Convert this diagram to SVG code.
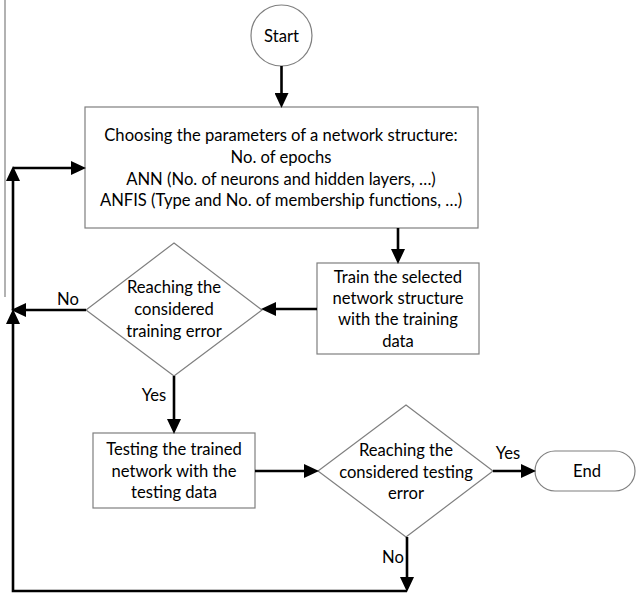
<svg xmlns="http://www.w3.org/2000/svg" width="636" height="596" viewBox="0 0 636 596">
<style>
.shape{fill:#fff;stroke:#7f7f7f;stroke-width:1.2}
.t{font-family:Lato,"Open Sans","Liberation Sans",sans-serif;font-size:16.6px;fill:#000;text-anchor:middle;dominant-baseline:central}
.c{fill:none;stroke:#000;stroke-width:2.6}
</style>
<defs>
<marker id="ah" viewBox="0 0 15 14" refX="7" refY="7" markerWidth="15" markerHeight="14" markerUnits="userSpaceOnUse" orient="auto">
<path d="M0,0 L15,7 L0,14 z" fill="#000"/>
</marker>
</defs>
<rect width="636" height="596" fill="#fff"/>
<line x1="5" y1="0" x2="5" y2="297" stroke="#7f7f7f" stroke-width="1.2"/>
<g id="start">
<circle class="shape" cx="281.5" cy="35.5" r="30.5"/>
<text class="t" x="281.5" y="35.5">Start</text>
</g>
<g id="choose">
<rect class="shape" x="85" y="107" width="393" height="121"/>
<text class="t" x="281" y="135">Choosing the parameters of a network structure:</text>
<text class="t" x="281" y="157">No. of epochs</text>
<text class="t" x="281" y="179">ANN (No. of neurons and hidden layers, …)</text>
<text class="t" x="281" y="200">ANFIS (Type and No. of membership functions, …)</text>
</g>
<g id="train">
<rect class="shape" x="317" y="263" width="162" height="91"/>
<text class="t" x="398" y="277">Train the selected</text>
<text class="t" x="398" y="298">network structure</text>
<text class="t" x="398" y="319">with the training</text>
<text class="t" x="398" y="341">data</text>
</g>
<g id="decision1">
<polygon class="shape" points="174,243 262,310 174,376 86,310"/>
<text class="t" x="174" y="287">Reaching the</text>
<text class="t" x="174" y="309">considered</text>
<text class="t" x="174" y="331">training error</text>
</g>
<g id="test">
<rect class="shape" x="93" y="433" width="162" height="75"/>
<text class="t" x="174" y="449">Testing the trained</text>
<text class="t" x="174" y="471">network with the</text>
<text class="t" x="174" y="492">testing data</text>
</g>
<g id="decision2">
<polygon class="shape" points="406,405 493,471 406,537 318,471"/>
<text class="t" x="406" y="450">Reaching the</text>
<text class="t" x="406" y="472">considered testing</text>
<text class="t" x="406" y="493">error</text>
</g>
<g id="end">
<rect class="shape" x="535" y="451" width="100" height="40" rx="20" ry="20"/>
<text class="t" x="587" y="471">End</text>
</g>
<g id="connectors">
<path class="c" d="M281.5,66 V100" marker-end="url(#ah)"/>
<path class="c" d="M398,228 V256" marker-end="url(#ah)"/>
<path class="c" d="M317,309 H269" marker-end="url(#ah)"/>
<path class="c" d="M86,310 H19" marker-end="url(#ah)"/>
<path class="c" d="M174,376 V426" marker-end="url(#ah)"/>
<path class="c" d="M255,471 H311" marker-end="url(#ah)"/>
<path class="c" d="M493,471 H528" marker-end="url(#ah)"/>
<path class="c" d="M407,537 V584" marker-end="url(#ah)"/>
<path class="c" d="M407,591 H13 V317" marker-end="url(#ah)"/>
<path class="c" d="M13,310 V174" marker-end="url(#ah)"/>
<path class="c" d="M13,168 H78" marker-end="url(#ah)"/>
<text class="t" x="68" y="299">No</text>
<text class="t" x="154" y="395">Yes</text>
<text class="t" x="508" y="453">Yes</text>
<text class="t" x="393" y="557">No</text>
</g>
</svg>
